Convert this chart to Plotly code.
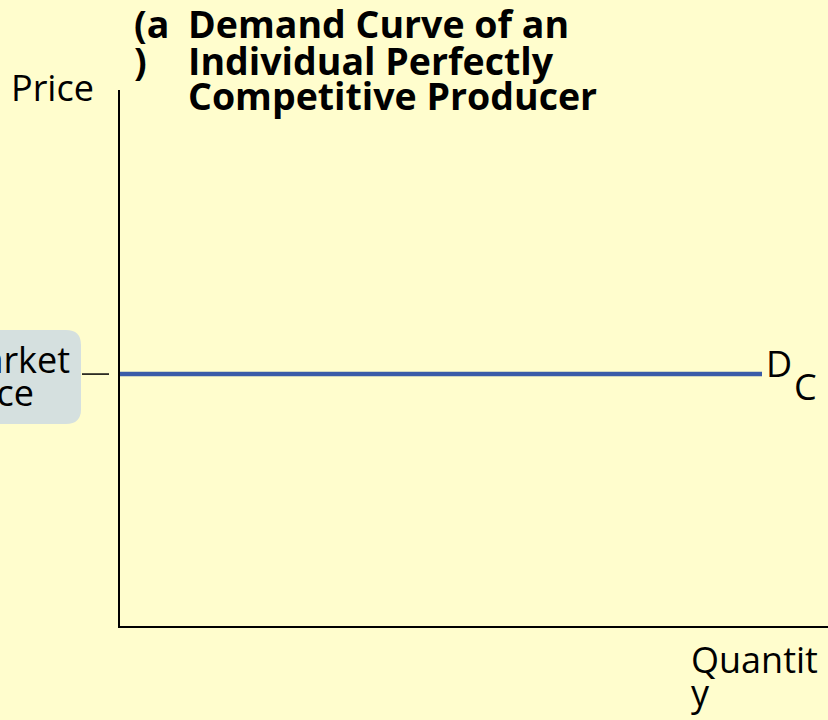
import plotly.graph_objects as go

# Data
quantity = [0, 100]
market_price = 4.7
price = [market_price, market_price]
title_prefix_lines = ["(a", ")"]
title_lines = ["Demand Curve of an", "Individual Perfectly", "Competitive Producer"]
y_label = "Price"
x_label_lines = ["Quantit", "y"]
price_label_lines = ["Market", "Price"]
curve_label_main = "D"
curve_label_sub = "C"

W, H = 828, 720
BG = "#FFFDCD"
FONT = "Open Sans"

def px(x):
    return x / W

def py(y):
    return (H - y) / H

fig = go.Figure()
fig.add_trace(go.Scatter(
    x=quantity, y=price, mode="lines",
    line=dict(color="#3A5BA8", width=4.5),
    hoverinfo="skip", showlegend=False,
))

# Rounded box for market price label
x0, x1 = px(-40), px(81)
y0, y1 = py(424), py(330)
rx, ry = 15 / W, 15 / H
path = (f"M {x0+rx},{y0} L {x1-rx},{y0} Q {x1},{y0} {x1},{y0+ry} "
        f"L {x1},{y1-ry} Q {x1},{y1} {x1-rx},{y1} L {x0+rx},{y1} "
        f"Q {x0},{y1} {x0},{y1-ry} L {x0},{y0+ry} Q {x0},{y0} {x0+rx},{y0} Z")
fig.add_shape(type="path", path=path, xref="paper", yref="paper",
              fillcolor="#D5E0DF", line=dict(width=0), layer="below")
# tick connecting label to the axis
fig.add_shape(type="line", xref="paper", yref="y",
              x0=px(82), x1=px(109), y0=market_price, y1=market_price,
              line=dict(color="black", width=1.5))

f = dict(family=FONT, size=36, color="black")
fb = dict(family=FONT, size=37.5, color="black", weight="bold")
ann = []
ann.append(dict(text=price_label_lines[0], x=px(72), y=py(359), xanchor="right", yanchor="middle", font=f))
ann.append(dict(text=price_label_lines[1], x=px(-51), y=py(392), xanchor="left", yanchor="middle", font=f))
ann.append(dict(text=y_label, x=px(9), y=py(87), xanchor="left", yanchor="middle", font=f))
for i, t in enumerate(x_label_lines):
    ann.append(dict(text=t, x=px(689), y=py(659 + 33 * i), xanchor="left", yanchor="middle", font=f))
for i, t in enumerate(title_prefix_lines):
    ann.append(dict(text=t, x=px(132), y=py(24 + 36 * i), xanchor="left", yanchor="middle", font=fb))
for i, t in enumerate(title_lines):
    ann.append(dict(text=t, x=px(186), y=py(24 + 36 * i), xanchor="left", yanchor="middle", font=fb))
ann.append(dict(text=curve_label_main, x=px(764), y=py(363), xanchor="left", yanchor="middle", font=f))
ann.append(dict(text=curve_label_sub, x=px(792), y=py(386), xanchor="left", yanchor="middle", font=f))
for a in ann:
    a.update(xref="paper", yref="paper", showarrow=False)
fig.update_layout(annotations=ann)

xmax = 100 * (W - 120) / (762 - 120)
fig.update_layout(
    width=W, height=H, margin=dict(l=0, r=0, t=0, b=0),
    paper_bgcolor=BG, plot_bgcolor=BG,
    xaxis=dict(domain=[px(120), 1], range=[0, xmax], showline=True, linecolor="black",
               linewidth=2, showgrid=False, zeroline=False, showticklabels=False, ticks=""),
    yaxis=dict(domain=[py(626), py(90)], range=[0, 10], showline=True, linecolor="black",
               linewidth=2, showgrid=False, zeroline=False, showticklabels=False, ticks=""),
    font=dict(family=FONT),
)
fig.write_html(
    "out.html",
    config={"displayModeBar": False},
    post_script="document.body.style.margin='0';document.body.style.overflow='hidden';document.body.style.background='" + BG + "';",
)
